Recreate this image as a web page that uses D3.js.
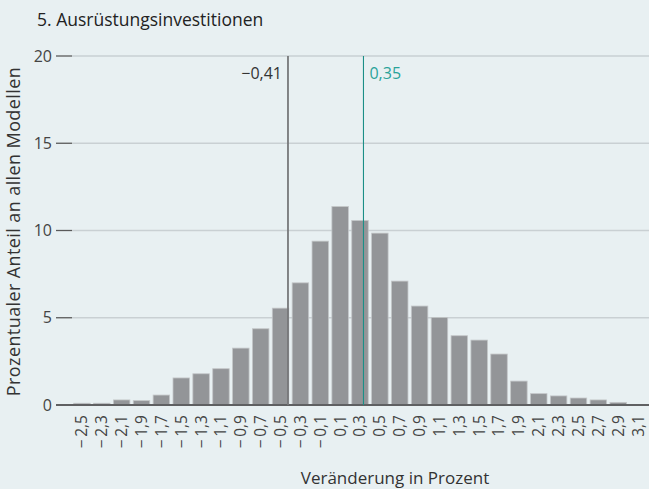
<!DOCTYPE html>
<html>
<head>
<meta charset="utf-8">
<script src="https://cdn.jsdelivr.net/npm/d3@7"></script>
<style>
  html, body { margin: 0; padding: 0; background: #e8f0f2; }
  svg text { font-family: "Open Sans", "Noto Sans", sans-serif; }
</style>
</head>
<body>
<svg id="chart" width="649" height="489"></svg>
<script>
// bin centres (change in percent) and share of all models
var bins = [-2.5, -2.3, -2.1, -1.9, -1.7, -1.5, -1.3, -1.1, -0.9, -0.7, -0.5, -0.3, -0.1,
            0.1, 0.3, 0.5, 0.7, 0.9, 1.1, 1.3, 1.5, 1.7, 1.9, 2.1, 2.3, 2.5, 2.7, 2.9, 3.1];
var shares = [0.1, 0.1, 0.29, 0.25, 0.57, 1.55, 1.79, 2.08, 3.26, 4.37, 5.55, 7.0, 9.39,
              11.37, 10.57, 9.85, 7.1, 5.67, 5.02, 3.97, 3.72, 2.92, 1.37, 0.65, 0.52, 0.4, 0.29, 0.15, 0];
var yTicks = [0, 5, 10, 15, 20];
var markers = [{ value: -0.41, label: "\u22120,41", color: "#77787a", side: "left" },
               { value: 0.35, label: "0,35", color: "#1b8f87", side: "right" }];

(function () {
  var svg = d3.select("#chart");
  var left = 72, right = 648, mTop = 56, mBottom = 405;

  var fmt = function (v) {
    var s = Math.abs(v).toFixed(1).replace(".", ",");
    return v < 0 ? "\u2212\u2009" + s : s;
  };

  var x = d3.scaleBand()
      .domain(bins)
      .range([left, right])
      .paddingInner(0.17)
      .paddingOuter(0.085);
  // continuous scale matching the bin centres, for the marker lines
  var xv = d3.scaleLinear()
      .domain([bins[0], bins[bins.length - 1]])
      .range([x(bins[0]) + x.bandwidth() / 2 - 1.5, x(bins[bins.length - 1]) + x.bandwidth() / 2 - 1.5]);
  var y = d3.scaleLinear().domain([0, 20]).range([mBottom, mTop]);

  svg.append("text")
     .attr("x", 37).attr("y", 26)
     .style("font-size", "17.5px").attr("fill", "#222")
     .text("5. Ausrüstungsinvestitionen");

  // grid + y axis
  var gy = svg.append("g");
  gy.selectAll("line.grid").data(yTicks).enter().append("line")
    .attr("x1", left).attr("x2", 649)
    .attr("y1", d => y(d)).attr("y2", d => y(d))
    .attr("stroke", "#c9d0d3").attr("stroke-width", 1.5);
  gy.selectAll("line.tick").data(yTicks).enter().append("line")
    .attr("x1", 56).attr("x2", left)
    .attr("y1", d => y(d)).attr("y2", d => y(d))
    .attr("stroke", "#5a5a5a").attr("stroke-width", 1.3);
  gy.selectAll("text").data(yTicks).enter().append("text")
    .attr("x", 52).attr("y", d => y(d)).attr("dy", "0.35em")
    .attr("text-anchor", "end")
    .style("font-size", "16px").attr("fill", "#444")
    .text(d => d);

  svg.append("text")
     .attr("transform", "translate(20," + ((mTop + mBottom) / 2 + 1) + ") rotate(-90)")
     .attr("text-anchor", "middle")
     .style("font-size", "18px").style("letter-spacing", "0.4px").attr("fill", "#333")
     .text("Prozentualer Anteil an allen Modellen");

  // bars
  svg.append("g").selectAll("rect")
     .data(bins.map((b, i) => ({ bin: b, v: shares[i] })).filter(d => d.v > 0))
     .enter().append("rect")
     .attr("x", d => x(d.bin))
     .attr("width", x.bandwidth())
     .attr("y", d => y(d.v))
     .attr("height", d => y(0) - y(d.v))
     .attr("fill", "#939598")
     .attr("stroke", "#c3c6c8").attr("stroke-width", 0.8);

  // baseline
  svg.append("line")
     .attr("x1", 56).attr("x2", 649)
     .attr("y1", y(0)).attr("y2", y(0))
     .attr("stroke", "#5f6062").attr("stroke-width", 1.8);

  // x tick labels
  svg.append("g").selectAll("text").data(bins).enter().append("text")
     .attr("transform", d => "translate(" + (x(d) + x.bandwidth() / 2) + "," + (mBottom + 10) + ") rotate(-90)")
     .attr("dy", "0.35em")
     .attr("text-anchor", "end")
     .style("font-size", "15.5px").attr("fill", "#444")
     .text(fmt);

  svg.append("text")
     .attr("x", 395).attr("y", 484)
     .attr("text-anchor", "middle")
     .style("font-size", "17px").attr("fill", "#333")
     .text("Veränderung in Prozent");

  // marker lines
  var gm = svg.append("g");
  markers.forEach(function (m) {
    gm.append("line")
      .attr("x1", xv(m.value)).attr("x2", xv(m.value))
      .attr("y1", y(20)).attr("y2", y(0))
      .attr("stroke", m.color)
      .attr("stroke-width", m.side === "left" ? 1.8 : 1.1);
    gm.append("text")
      .attr("x", xv(m.value) + (m.side === "left" ? -6 : 6))
      .attr("y", 79)
      .attr("text-anchor", m.side === "left" ? "end" : "start")
      .style("font-size", "16px")
      .attr("fill", m.side === "left" ? "#333" : "#2aa39a")
      .text(m.label);
  });
})();
</script>
</body>
</html>
